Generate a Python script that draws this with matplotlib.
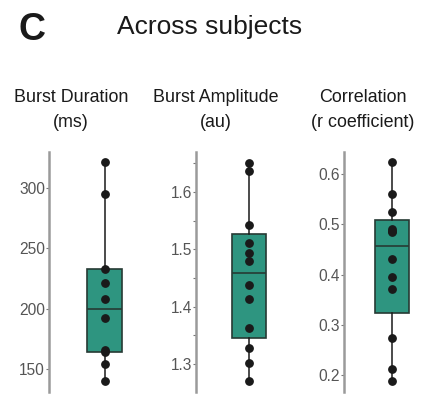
import numpy as np
import matplotlib.pyplot as plt

plt.rcParams['font.family'] = ['Liberation Sans', 'DejaVu Sans']

# values per subject
duration = [140, 154.5, 164.5, 166, 192, 208, 221, 232.5, 294.5, 321]
amplitude = [1.270, 1.301, 1.327, 1.362, 1.413, 1.437, 1.480, 1.494, 1.510, 1.542, 1.636, 1.651]
correlation = [0.188, 0.2125, 0.2736, 0.372, 0.395, 0.430, 0.484, 0.487, 0.4907, 0.524, 0.560, 0.6226]

titles = ['Burst Duration\n(ms)', 'Burst Amplitude\n(au)', 'Correlation\n(r coefficient)']
ylims = [(131.3, 329.7), (1.251, 1.670), (0.167, 0.6437)]
majors = [[150, 200, 250, 300], [1.3, 1.4, 1.5, 1.6], [0.2, 0.3, 0.4, 0.5, 0.6]]
minors = [[], [1.35, 1.45, 1.55, 1.65], []]
ticklabels = [['150', '200', '250', '300'], ['1.3', '1.4', '1.5', '1.6'],
              ['0.2', '0.3', '0.4', '0.5', '0.6']]

box_col = '#2e9580'
W, H = 430, 396


def stats(vals):
    # quartiles as medians of lower/upper halves, whiskers to min/max
    v = np.sort(vals)
    n = len(v)
    lo = v[:n // 2]
    hi = v[(n + 1) // 2:]
    return dict(med=np.median(v), q1=np.median(lo), q3=np.median(hi),
                whislo=v.min(), whishi=v.max(), fliers=[])


fig = plt.figure(figsize=(W / 100, H / 100), dpi=100)

lefts = [49, 196, 344]
centers = [104.7, 249, 392]
ax_w = 100
for i, data in enumerate([duration, amplitude, correlation]):
    ax = fig.add_axes([lefts[i] / W, 4 / H, ax_w / W, 240.3 / H])
    pos = (centers[i] - lefts[i]) / ax_w
    ax.bxp([stats(data)], positions=[pos], widths=0.345, showcaps=False,
           patch_artist=True,
           boxprops=dict(facecolor=box_col, edgecolor='#263a34', linewidth=1.2),
           medianprops=dict(color='#263a34', linewidth=1.2),
           whiskerprops=dict(color='#1a1a1a', linewidth=1.1),
           zorder=2)
    ax.plot(np.full(len(data), pos), data, 'o', color='#1a1a1a',
            markersize=5.3, zorder=3)
    ax.set_xlim(0, 1)
    ax.set_ylim(*ylims[i])
    ax.set_yticks(majors[i])
    ax.set_yticklabels(ticklabels[i])
    ax.set_yticks(minors[i], minor=True)
    ax.set_xticks([])
    for s in ['top', 'right', 'bottom']:
        ax.spines[s].set_visible(False)
    ax.spines['left'].set_color('#9a9a9a')
    ax.spines['left'].set_linewidth(1.8)
    ax.tick_params(axis='y', which='both', length=2.5, width=0.8, color='#777777',
                   labelsize=11.2, labelcolor='#555555', pad=0.5)
    fig.text((lefts[i] + [22, 20, 18.5][i]) / W, 1 - 110 / H, titles[i],
             ha='center', va='center', fontsize=12.9, linespacing=1.6,
             color='#1a1a1a')

fig.text(19 / W, 1 - 30 / H, 'C', fontsize=27, fontweight='bold',
         ha='left', va='center', color='#1a1a1a')
fig.text(210 / W, 1 - 27 / H, 'Across subjects', fontsize=19,
         ha='center', va='center', color='#1a1a1a')

fig.savefig('out.png', dpi=100)
